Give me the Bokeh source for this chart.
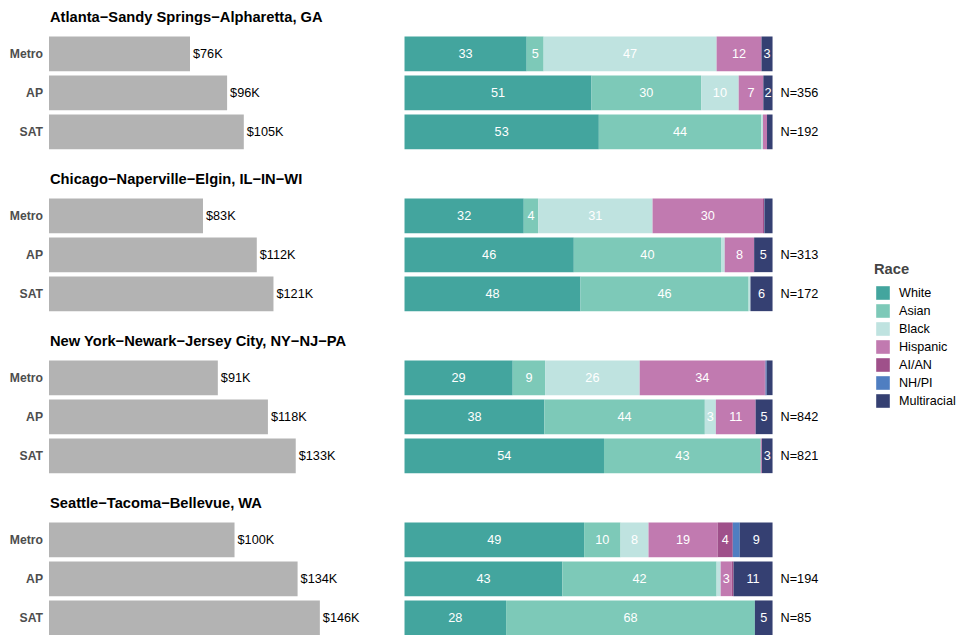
from bokeh.plotting import figure
from bokeh.models import ColumnDataSource, Range1d, Legend, LegendItem
from bokeh.embed import file_html
from bokeh.resources import INLINE
from bokeh.core.properties import value

# ---------------- data ----------------
metros = [
    "Atlanta\u2212Sandy Springs\u2212Alpharetta, GA",
    "Chicago\u2212Naperville\u2212Elgin, IL\u2212IN\u2212WI",
    "New York\u2212Newark\u2212Jersey City, NY\u2212NJ\u2212PA",
    "Seattle\u2212Tacoma\u2212Bellevue, WA",
]
groups = ["Metro", "AP", "SAT"]

income_metro = [76, 83, 91, 100]
income_ap = [96, 112, 118, 134]
income_sat = [105, 121, 133, 146]

n_ap = [356, 313, 842, 194]
n_sat = [192, 172, 821, 85]

races = ["White", "Asian", "Black", "Hispanic", "AI/AN", "NH/PI", "Multiracial"]
race_colors = ["#43A59E", "#7DC9B8", "#BFE3E0", "#C17AB0", "#9F508A", "#4F7EC1", "#354072"]

# rows: Atlanta (Metro, AP, SAT), Chicago (...), New York (...), Seattle (...)
white = [33.2, 50.8, 52.8, 32.4, 46.0, 47.8, 29.4, 38.0, 54.2, 48.8, 42.9, 27.6]
asian = [4.6, 29.8, 44.1, 3.9, 40.0, 45.7, 8.8, 43.6, 42.6, 9.9, 41.9, 67.6]
black = [47.0, 10.2, 0.5, 31.1, 1.0, 0.5, 25.7, 3.0, 0.0, 7.6, 1.1, 0.0]
hispanic = [12.2, 6.7, 1.1, 30.0, 8.0, 0.0, 34.0, 10.8, 0.3, 18.8, 3.0, 0.0]
aian = [0.0, 0.0, 0.0, 0.3, 0.0, 0.0, 0.2, 0.0, 0.0, 4.1, 0.5, 0.0]
nhpi = [0.0, 0.0, 0.0, 0.1, 0.0, 0.0, 0.3, 0.0, 0.0, 1.9, 0.0, 0.0]
multiracial = [3.0, 2.5, 1.5, 2.2, 5.0, 6.0, 1.6, 4.6, 2.9, 8.9, 10.6, 4.8]

# ---------------- layout constants ----------------
W, H = 959, 635
FIRST = 53.3       # centre of first row (px from top of plot)
ROW_STEP = 39.0
PANEL_STEP = 162.0
BAR_H = 34.7
TITLE_UP = 36.5
FONT = "Liberation Sans"
TXT = "12.7px"

row_y, row_lab, inc, inc_lab, n_lab = [], [], [], [], []
for i in range(len(metros)):
    vals = [income_metro[i], income_ap[i], income_sat[i]]
    ns = ["", "N=%d" % n_ap[i], "N=%d" % n_sat[i]]
    for j, g in enumerate(groups):
        row_y.append(FIRST + i * PANEL_STEP + j * ROW_STEP)
        row_lab.append(g)
        inc.append(vals[j])
        inc_lab.append("$%dK" % vals[j])
        n_lab.append(ns[j])

title_y = [FIRST + i * PANEL_STEP - TITLE_UP for i in range(len(metros))]

race_data = [white, asian, black, hispanic, aian, nhpi, multiracial]
src = ColumnDataSource(dict(y=row_y, **{r: d for r, d in zip(races, race_data)}))

seg_x, seg_y, seg_t = [], [], []
for k in range(len(row_y)):
    cum = 0.0
    for d in race_data:
        v = d[k]
        if v >= 2.5:
            seg_x.append(cum + v / 2)
            seg_y.append(row_y[k])
            seg_t.append(str(int(round(v))))
        cum += v

# ---------------- figure ----------------
p = figure(width=W, height=H, x_range=Range1d(-26.15, 490.8), y_range=Range1d(H, 0),
           output_backend="svg", toolbar_location=None, min_border=0,
           x_axis_location=None, y_axis_location=None)
p.grid.visible = False
p.outline_line_color = None
p.background_fill_color = "white"
p.border_fill_color = "white"
p.extra_x_ranges = {"race": Range1d(-109.78, 150.8)}

# income bars
isrc = ColumnDataSource(dict(y=row_y, income=inc, lab=inc_lab, grp=row_lab, n=n_lab))
p.hbar(y="y", left=0, right="income", height=BAR_H, fill_color="#B3B3B3", line_color=None, source=isrc)
p.text(x="income", y="y", text="lab", x_offset=3, text_align="left", text_baseline="middle",
       text_font=value(FONT), text_font_size=TXT, text_color="#000000", source=isrc)
p.text(x=0, y="y", text="grp", x_offset=-6, text_align="right", text_baseline="middle",
       text_font=value(FONT), text_font_size="12.2px", text_font_style="bold",
       text_color="#4D4D4D", source=isrc)

# titles
p.text(x=[0] * len(metros), y=title_y, text=metros, x_offset=1, text_align="left",
       text_baseline="middle", text_font=value(FONT), text_font_size="14.7px",
       text_font_style="bold", text_color="#000000")

# race stacked bars
rends = p.hbar_stack(races, y="y", height=BAR_H, color=race_colors, line_color=None,
                     source=src, x_range_name="race")
p.text(x=seg_x, y=seg_y, text=seg_t, x_range_name="race", text_align="center",
       text_baseline="middle", text_font=value(FONT), text_font_size=TXT, text_color="white")
p.text(x=[100] * len(row_y), y=row_y, text=n_lab, x_range_name="race", x_offset=8,
       text_align="left", text_baseline="middle", text_font=value(FONT),
       text_font_size=TXT, text_color="#000000")

legend = Legend(items=[LegendItem(label=r, renderers=[rd]) for r, rd in zip(races, rends)],
                location=(874, 226), title="Race", title_text_font=FONT,
                title_text_font_size="14.7px", title_text_font_style="bold",
                title_standoff=7, label_text_font=FONT, label_text_font_size="12.6px",
                label_text_color="#000000", glyph_width=17, glyph_height=17,
                label_height=17, spacing=1, label_standoff=8, padding=0, margin=0,
                border_line_color=None, background_fill_alpha=0)
p.add_layout(legend, "center")

open("out.html", "w").write(file_html(p, INLINE))
